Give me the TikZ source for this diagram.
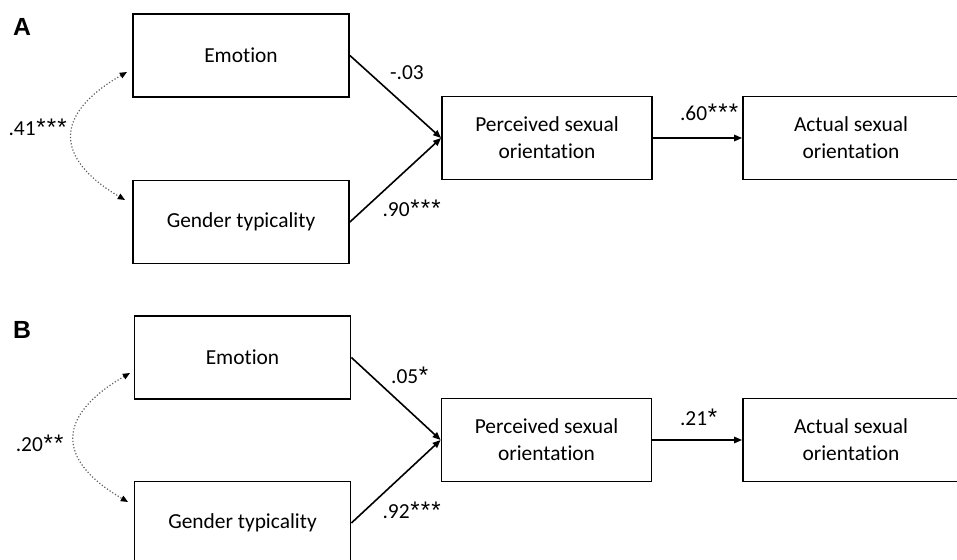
\documentclass[tikz,border=0pt]{standalone}
\usepackage{fontspec}
\setmainfont{Carlito}[Ligatures=NoCommon]
\newfontfamily\panelfont{Liberation Sans}
\newcommand\sgn{\makebox[5.3pt]{\panelfont\fontsize{12}{12}\selectfont*}}
\usepackage{tikz}
\usetikzlibrary{
    arrows.meta
}
\usepackage{xcolor}
\definecolor{corrgray}{RGB}{95,95,95}

\begin{document}
\begin{tikzpicture}[
    x=0.5pt, y=-0.5pt,
    box/.style={
        rectangle, draw, line width=0.9pt, inner sep=0pt,
        minimum width=108pt, minimum height=41.5pt,
        align=center, font=\fontsize{10.7}{13.5}\selectfont
    },
    arrow/.style={-{Triangle[length=4pt, width=3.2pt]}, line width=0.8pt},
    corr/.style={
        {Triangle[length=3.6pt, width=3pt, color=black]}-{Triangle[length=3.6pt, width=3pt, color=black]},
        densely dotted, corrgray, line width=0.6pt
    },
    coef/.style={font=\fontsize{10.7}{13}\selectfont},
    panel/.style={font=\panelfont\bfseries\fontsize{12.4}{14}\selectfont}
]

\useasboundingbox (0,0) rectangle (957,560);
\clip (0,0) rectangle (957,560);

% Panel A
\node[panel] (labA) at (22,27) {A};
\node[box] (emoA) at (241,55.5) {Emotion};
\node[box] (genA) at (241,222) {Gender typicality};
\node[box, minimum width=105pt] (perA) at (547,138) {Perceived sexual\\orientation};
\node[box] (actA) at (851,138) {Actual sexual\\orientation};

\draw[arrow] (emoA.east) -- (perA.west);
\draw[arrow] (genA.east) -- (perA.west);
\draw[arrow] (perA.east) -- (actA.west);

\coordinate (corA1) at (127,72);
\coordinate (corA2) at (125,200);
\draw[corr] (corA1) .. controls (54,114) and (54,158) .. (corA2);

\node[coef] (cEmoA) at (407,73) {-.03};
\node[coef] (cGenA) at (412,208) {.90\sgn\sgn\sgn};
\node[coef, anchor=west] (cPerA) at (673,112) {.60\sgn\sgn\sgn};
\node[coef] (cCorA) at (38,127) {.41\sgn\sgn\sgn};

% Panel B
\node[panel] (labB) at (22,330) {B};
\node[box] (emoB) at (242.5,357.5) {Emotion};
\node[box] (genB) at (242.5,523) {Gender typicality};
\node[box, minimum width=105pt] (perB) at (546.5,440) {Perceived sexual\\orientation};
\node[box] (actB) at (851,440) {Actual sexual\\orientation};

\draw[arrow] (emoB.east) -- (perB.west);
\draw[arrow] (genB.east) -- (perB.west);
\draw[arrow] (perB.east) -- (actB.west);

\coordinate (corB1) at (130,373);
\coordinate (corB2) at (128,502);
\draw[corr] (corB1) .. controls (56,416) and (56,460) .. (corB2);

\node[coef] (cEmoB) at (410,375) {.05\sgn};
\node[coef] (cGenB) at (412,510) {.92\sgn\sgn\sgn};
\node[coef, anchor=west] (cPerB) at (673,417) {.21\sgn};
\node[coef] (cCorB) at (40,443) {.20\sgn\sgn};

\end{tikzpicture}
\end{document}
